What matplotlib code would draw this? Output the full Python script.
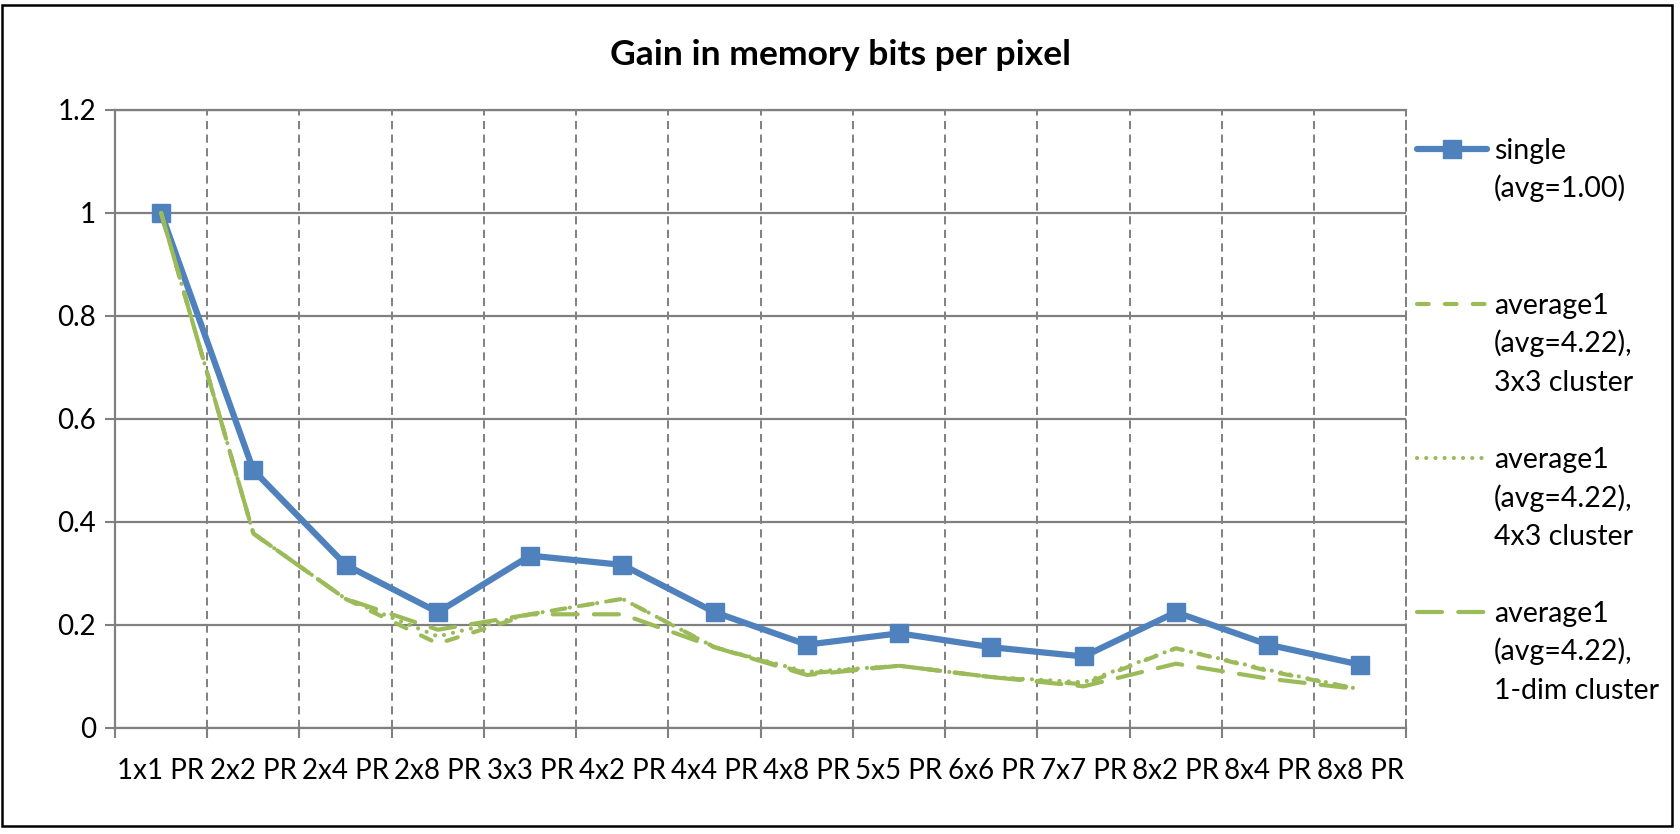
import matplotlib
matplotlib.use("Agg")
import matplotlib.pyplot as plt
from matplotlib.lines import Line2D
from matplotlib.patches import Rectangle
import numpy as np

plt.rcParams['font.family'] = ['Lato', 'DejaVu Sans']

# ---------------- data ----------------
title = "Gain in memory bits per pixel"
categories = ["1x1 PR", "2x2 PR", "2x4 PR", "2x8 PR", "3x3 PR", "4x2 PR", "4x4 PR",
              "4x8 PR", "5x5 PR", "6x6 PR", "7x7 PR", "8x2 PR", "8x4 PR", "8x8 PR"]
single = [1.0, 0.5, 0.316, 0.224, 0.334, 0.316, 0.224, 0.161, 0.183, 0.156, 0.138, 0.224, 0.161, 0.122]
avg_3x3 = [1.0, 0.377, 0.25, 0.163, 0.22, 0.25, 0.156, 0.105, 0.12, 0.098, 0.084, 0.154, 0.110, 0.074]
avg_4x3 = [1.0, 0.377, 0.25, 0.177, 0.22, 0.25, 0.156, 0.108, 0.12, 0.098, 0.088, 0.154, 0.112, 0.074]
avg_1dim = [1.0, 0.377, 0.25, 0.190, 0.22, 0.22, 0.156, 0.102, 0.12, 0.098, 0.080, 0.124, 0.095, 0.074]
yticks = [0, 0.2, 0.4, 0.6, 0.8, 1.0, 1.2]
ytick_labels = ["0", "0.2", "0.4", "0.6", "0.8", "1", "1.2"]
legend_labels = [
    ["single", "(avg=1.00)"],
    ["average1", "(avg=4.22),", "3x3 cluster"],
    ["average1", "(avg=4.22),", "4x3 cluster"],
    ["average1", "(avg=4.22),", "1-dim cluster"],
]

# ---------------- styling ----------------
W, H = 1681, 834
BLUE = '#4F81BD'
GREEN = '#9BBB59'
GRAY = '#808080'
FS = 20

fig = plt.figure(figsize=(W / 100, H / 100), dpi=100)

def fx(x):
    return x / W

def fy(y):
    return 1 - y / H

left, right, top, bottom = 115, 1406.5, 110, 727.5
ax = fig.add_axes([fx(left), fy(bottom), (right - left) / W, (bottom - top) / H])

x = np.arange(len(categories)) + 0.5

GLW = 3.0
green_styles = [
    dict(linestyle=(0, (2.8, 3.9)), dash_capstyle='round'),
    dict(linestyle=(0, (0.01, 2.2)), dash_capstyle='round'),
    dict(linestyle=(0, (6.0, 3.9)), dash_capstyle='round'),
]

ax.plot(x, single, color=BLUE, lw=4.5, marker='s', markersize=13,
        solid_joinstyle='round', solid_capstyle='round', zorder=3)
for series, st in zip([avg_3x3, avg_4x3, avg_1dim], green_styles):
    ax.plot(x, series, color=GREEN, lw=GLW, zorder=4, **st)

ax.set_xlim(0, len(categories))
ax.set_ylim(0, 1.2)

ax.set_yticks(yticks, ytick_labels)
ax.set_xticks(np.arange(len(categories) + 1))
ax.set_xticklabels([])
ax.set_xticks(x, categories, minor=True)

ax.tick_params(axis='both', which='major', direction='out', length=7.2, width=1.5,
               color=GRAY, labelsize=FS)
ax.tick_params(axis='y', pad=6.5)
ax.tick_params(axis='x', which='minor', length=0, labelsize=FS, pad=22)

DASH = (0, (4.2, 2.8))
for s in ['left', 'bottom', 'top']:
    ax.spines[s].set_color(GRAY)
    ax.spines[s].set_linewidth(1.6)
ax.spines['right'].set_color(GRAY)
ax.spines['right'].set_linewidth(1.4)
ax.spines['right'].set_linestyle(DASH)

ax.grid(axis='y', which='major', color=GRAY, lw=1.6, linestyle='-')
ax.grid(axis='x', which='major', color=GRAY, lw=1.4, linestyle=DASH)
ax.set_axisbelow(True)

# title
fig.text(fx(841), fy(65), title, ha='center', va='baseline', fontsize=25.5, fontweight='bold')

# legend (manual, Excel-like)
handle_y = [148.7, 303.7, 458, 611.8]
hx0, hx1, tx = 1417, 1487, 1494
handle_styles = [dict(color=BLUE, lw=4.5, solid_capstyle='round')] + \
    [dict(color=GREEN, lw=GLW, **st) for st in green_styles]
for i, (hy, lab, st) in enumerate(zip(handle_y, legend_labels, handle_styles)):
    fig.add_artist(Line2D([fx(hx0), fx(hx1)], [fy(hy), fy(hy)], transform=fig.transFigure, **st))
    if i == 0:
        fig.add_artist(Line2D([fx((hx0 + hx1) / 2)], [fy(hy)], transform=fig.transFigure,
                              marker='s', markersize=13, color=BLUE, lw=0))
    for j, line in enumerate(lab):
        fig.text(fx(tx), fy(hy + 10 + 38.5 * j), line, ha='left', va='baseline', fontsize=20.5)

# outer border
fig.add_artist(Rectangle((fx(2.5), fy(825.5)), (1672 - 2.5) / W, (825.5 - 4.5) / H,
                         transform=fig.transFigure, fill=False, edgecolor='black', lw=1.8))

fig.savefig('out.png', dpi=100)
